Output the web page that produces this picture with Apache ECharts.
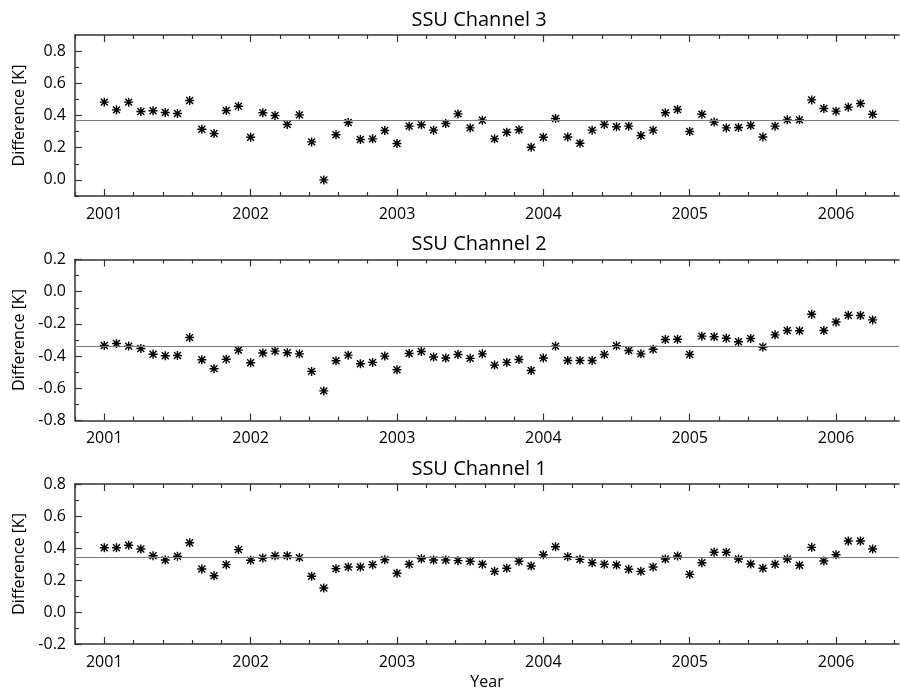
<!DOCTYPE html>
<html>
<head>
<meta charset="utf-8">
<script src="https://cdn.jsdelivr.net/npm/echarts@6/dist/echarts.min.js"></script>
<style>
  html, body { margin: 0; padding: 0; background: #fff; }
  #chart { width: 900px; height: 691px; }
</style>
</head>
<body>
<div id="chart"></div>
<script>
// Monthly SSU differences, Jan 2001 .. Apr 2006 (one value per month)
const startYear = 2001;
const ch3Diff = [
  0.483, 0.435, 0.483, 0.425, 0.429, 0.419, 0.412, 0.493, 0.315, 0.288, 0.431, 0.458,
  0.265, 0.417, 0.400, 0.344, 0.404, 0.236, 0.000, 0.280, 0.356, 0.251, 0.255, 0.307,
  0.226, 0.334, 0.342, 0.309, 0.350, 0.410, 0.323, 0.371, 0.255, 0.296, 0.311, 0.203,
  0.265, 0.381, 0.267, 0.228, 0.309, 0.344, 0.330, 0.334, 0.276, 0.309, 0.417, 0.437,
  0.301, 0.408, 0.359, 0.323, 0.325, 0.338, 0.267, 0.334, 0.373, 0.373, 0.497, 0.444,
  0.427, 0.452, 0.475, 0.408
];
const ch2Diff = [
  -0.334, -0.322, -0.338, -0.353, -0.388, -0.398, -0.396, -0.285, -0.423, -0.478, -0.419, -0.363,
  -0.441, -0.381, -0.369, -0.379, -0.386, -0.495, -0.616, -0.429, -0.394, -0.447, -0.439, -0.400,
  -0.485, -0.384, -0.371, -0.406, -0.412, -0.390, -0.414, -0.386, -0.456, -0.439, -0.421, -0.489,
  -0.412, -0.338, -0.427, -0.427, -0.427, -0.390, -0.336, -0.365, -0.386, -0.357, -0.297, -0.295,
  -0.390, -0.276, -0.280, -0.289, -0.311, -0.291, -0.344, -0.268, -0.241, -0.243, -0.140, -0.241,
  -0.188, -0.146, -0.148, -0.175
];
const ch1Diff = [
  0.402, 0.402, 0.417, 0.394, 0.352, 0.325, 0.348, 0.433, 0.269, 0.227, 0.296, 0.390,
  0.323, 0.338, 0.352, 0.352, 0.340, 0.223, 0.150, 0.271, 0.281, 0.281, 0.296, 0.327,
  0.242, 0.298, 0.333, 0.325, 0.325, 0.321, 0.317, 0.298, 0.254, 0.273, 0.317, 0.288,
  0.358, 0.408, 0.346, 0.329, 0.308, 0.298, 0.294, 0.267, 0.254, 0.281, 0.331, 0.350,
  0.235, 0.308, 0.373, 0.373, 0.331, 0.300, 0.273, 0.298, 0.331, 0.292, 0.404, 0.319,
  0.358, 0.444, 0.444, 0.394
];
// Mean difference of each channel (horizontal reference line)
const meanDiff = [0.373, -0.336, 0.344];

const panelTitles = ['SSU Channel 3', 'SSU Channel 2', 'SSU Channel 1'];
const yearLabels = [2001, 2002, 2003, 2004, 2005, 2006];
const yRanges = [[-0.1, 0.9], [-0.8, 0.2], [-0.2, 0.8]];
const yMajor = [
  [0.0, 0.2, 0.4, 0.6, 0.8],
  [-0.8, -0.6, -0.4, -0.2, 0.0, 0.2],
  [-0.2, 0.0, 0.2, 0.4, 0.6, 0.8]
];
const yMinor = [
  [-0.1, 0.1, 0.3, 0.5, 0.7],
  [-0.7, -0.5, -0.3, -0.1, 0.1],
  [-0.1, 0.1, 0.3, 0.5, 0.7]
];
const xMin = 2000.8, xMax = 2006.43;

// minor x ticks every 0.2 year, skipping the labelled years
const xMinor = [];
for (let i = 0; i <= 28; i++) {
  const v = Math.round((2000.8 + i * 0.2) * 10) / 10;
  if (Math.abs(v - Math.round(v)) > 1e-6) xMinor.push(v);
}

const panelData = [ch3Diff, ch2Diff, ch1Diff];
const gridTop = [35, 259.5, 484];
const gridHeight = [161, 161, 160];

const FONT = 'Open Sans';
const frameColor = '#333';
const tickStyle = { color: frameColor, width: 1.2 };
// eight-armed asterisk marker
const asterisk = 'path://M4.2 0 H5.8 V10 H4.2 Z M0 4.2 H10 V5.8 H0 Z ' +
  'M0.6 1.7 L1.7 0.6 L9.4 8.3 L8.3 9.4 Z M8.3 0.6 L9.4 1.7 L1.7 9.4 L0.6 8.3 Z';

const grids = [], xAxes = [], yAxes = [], series = [], graphics = [];

function xAxisOf(p, pos, opts) {
  return Object.assign({
    type: 'value', gridIndex: p, min: xMin, max: xMax, position: pos,
    splitLine: { show: false },
    axisLine: { show: false, onZero: false },
    axisLabel: { show: false }, axisTick: { show: false }
  }, opts);
}
function yAxisOf(p, opts) {
  return Object.assign({
    type: 'value', gridIndex: p, min: yRanges[p][0], max: yRanges[p][1],
    position: 'left', splitLine: { show: false },
    axisLine: { show: false, onZero: false },
    axisLabel: { show: false }, axisTick: { show: false }
  }, opts);
}

for (let p = 0; p < 3; p++) {
  grids.push({ left: 75, width: 824, top: gridTop[p], height: gridHeight[p], show: false });

  // bottom frame, year ticks and labels
  xAxes.push(xAxisOf(p, 'bottom', {
    axisLine: { show: true, onZero: false, lineStyle: { color: frameColor, width: 1.5 } },
    axisTick: { show: true, inside: true, length: 7, customValues: yearLabels, lineStyle: tickStyle },
    axisLabel: { show: true, customValues: yearLabels, margin: 10,
      fontFamily: FONT, fontSize: 16, color: '#000', formatter: v => String(Math.round(v)) },
    name: p === 2 ? 'Year' : '', nameLocation: 'middle', nameGap: 30,
    nameTextStyle: { fontFamily: FONT, fontSize: 16, color: '#000' }
  }));
  // bottom minor ticks
  xAxes.push(xAxisOf(p, 'bottom', {
    axisTick: { show: true, inside: true, length: 4, customValues: xMinor, lineStyle: tickStyle }
  }));
  // top frame with mirrored ticks
  xAxes.push(xAxisOf(p, 'top', {
    axisLine: { show: true, onZero: false, lineStyle: { color: frameColor, width: 1.5 } },
    axisTick: { show: true, inside: true, length: 7, customValues: yearLabels, lineStyle: tickStyle }
  }));
  xAxes.push(xAxisOf(p, 'top', {
    axisTick: { show: true, inside: true, length: 4, customValues: xMinor, lineStyle: tickStyle }
  }));

  // left frame, value ticks and labels
  yAxes.push(yAxisOf(p, {
    axisLine: { show: true, onZero: false, lineStyle: { color: frameColor, width: 1.5 } },
    axisTick: { show: true, inside: true, length: 7, customValues: yMajor[p], lineStyle: tickStyle },
    axisLabel: { show: true, customValues: yMajor[p], margin: 9,
      fontFamily: FONT, fontSize: 16, color: '#000', formatter: v => v.toFixed(1) },
    name: 'Difference [K]', nameLocation: 'middle', nameGap: 48,
    nameTextStyle: { fontFamily: FONT, fontSize: 16, color: '#000' }
  }));
  yAxes.push(yAxisOf(p, {
    axisTick: { show: true, inside: true, length: 4, customValues: yMinor[p], lineStyle: tickStyle }
  }));

  series.push({
    type: 'scatter',
    xAxisIndex: p * 4, yAxisIndex: p * 2,
    data: panelData[p].map((v, k) => [startYear + k / 12, v]),
    symbol: asterisk, symbolSize: 9, symbolKeepAspect: true,
    itemStyle: { color: '#000', opacity: 1 },
    silent: true,
    markLine: {
      silent: true, symbol: ['none', 'none'], label: { show: false },
      lineStyle: { color: '#7a7a7a', width: 1, type: 'solid' },
      data: [{ yAxis: meanDiff[p] }]
    },
    z: 3
  });

  graphics.push({
    type: 'text', x: 479, y: gridTop[p] - 15,
    style: { text: panelTitles[p], fontFamily: FONT, fontSize: 20, fill: '#000',
      align: 'center', verticalAlign: 'middle' }
  });
}

const chart = echarts.init(document.getElementById('chart'), null, { renderer: 'canvas' });
chart.setOption({
  animation: false,
  backgroundColor: '#fff',
  grid: grids,
  xAxis: xAxes,
  yAxis: yAxes,
  series: series,
  graphic: graphics
});
</script>
</body>
</html>
